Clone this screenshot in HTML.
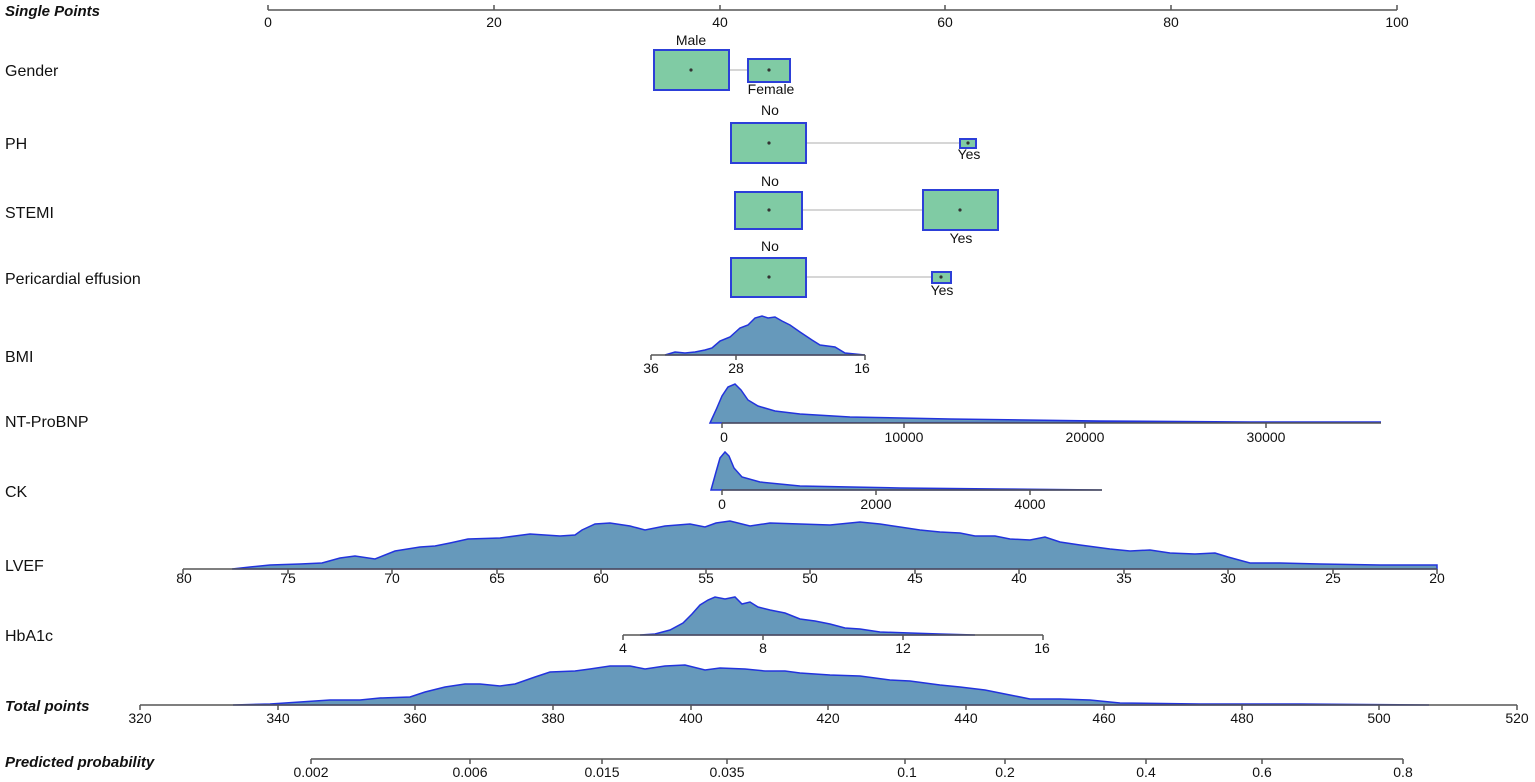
<!DOCTYPE html>
<html><head><meta charset="utf-8"><style>
html,body{margin:0;padding:0;background:#fff;}
svg{display:block;font-family:"Liberation Sans",Arial,sans-serif;}
.lab{font-size:16px;fill:#111;}
.bi{font-size:15px;font-weight:bold;font-style:italic;fill:#111;}
.t{font-size:14px;fill:#111;text-anchor:middle;}
.ax{stroke:#555;stroke-width:1.5;fill:none;}
.den{fill:#6699bb;stroke:#2233dd;stroke-width:1.5;}
.box{fill:#80cba4;stroke:#2c3fd8;stroke-width:2;}
.cn{stroke:#c8c8c8;stroke-width:1.5;}
</style></head><body>
<svg width="1535" height="782" viewBox="0 0 1535 782">
<text class="bi" x="5" y="16">Single Points</text>
<text class="lab" x="5" y="76">Gender</text>
<text class="lab" x="5" y="149">PH</text>
<text class="lab" x="5" y="218">STEMI</text>
<text class="lab" x="5" y="284">Pericardial effusion</text>
<text class="lab" x="5" y="362">BMI</text>
<text class="lab" x="5" y="427">NT-ProBNP</text>
<text class="lab" x="5" y="497">CK</text>
<text class="lab" x="5" y="571">LVEF</text>
<text class="lab" x="5" y="641">HbA1c</text>
<text class="bi" x="5" y="711">Total points</text>
<text class="bi" x="5" y="767">Predicted probability</text>

<path class="ax" d="M268 10H1397M268 10v-5M494 10v-5M720 10v-5M945 10v-5M1171 10v-5M1397 10v-5"/>
<text class="t" x="268" y="27">0</text><text class="t" x="494" y="27">20</text><text class="t" x="720" y="27">40</text><text class="t" x="945" y="27">60</text><text class="t" x="1171" y="27">80</text><text class="t" x="1397" y="27">100</text>

<line class="cn" x1="729" y1="70" x2="748" y2="70"/>
<rect class="box" x="654" y="50" width="75" height="40"/>
<rect class="box" x="748" y="59" width="42" height="23"/>
<circle cx="691" cy="70" r="1.6" fill="#333"/><circle cx="769" cy="70" r="1.6" fill="#333"/>
<text class="t" x="691" y="45">Male</text><text class="t" x="771" y="94">Female</text>
<line class="cn" x1="806" y1="143" x2="960" y2="143"/>
<rect class="box" x="731" y="123" width="75" height="40"/>
<rect class="box" x="960" y="139" width="16" height="9"/>
<circle cx="769" cy="143" r="1.6" fill="#333"/><circle cx="968" cy="143" r="1.6" fill="#333"/>
<text class="t" x="770" y="115">No</text><text class="t" x="969" y="159">Yes</text>
<line class="cn" x1="802" y1="210" x2="923" y2="210"/>
<rect class="box" x="735" y="192" width="67" height="37"/>
<rect class="box" x="923" y="190" width="75" height="40"/>
<circle cx="769" cy="210" r="1.6" fill="#333"/><circle cx="960" cy="210" r="1.6" fill="#333"/>
<text class="t" x="770" y="186">No</text><text class="t" x="961" y="243">Yes</text>
<line class="cn" x1="806" y1="277" x2="932" y2="277"/>
<rect class="box" x="731" y="258" width="75" height="39"/>
<rect class="box" x="932" y="272" width="19" height="11"/>
<circle cx="769" cy="277" r="1.6" fill="#333"/><circle cx="941" cy="277" r="1.6" fill="#333"/>
<text class="t" x="770" y="251">No</text><text class="t" x="942" y="295">Yes</text>

<path class="den" d="M665 355L675 352L685 353L695 352L705 350L712 348L720 341L730 337L740 328L748 325L755 318L762 316L768 318L775 317L782 321L790 325L800 332L812 340L820 345L835 347L845 353L855 354L865 355Z"/>
<path class="ax" d="M651 355H865M651 355v5M736 355v5M865 355v5"/>
<text class="t" x="651" y="373">36</text><text class="t" x="736" y="373">28</text><text class="t" x="862" y="373">16</text>

<path class="den" d="M710 423L716 410L722 396L728 387L735 384L741 390L748 400L758 406L775 411L800 414L850 417L950 419L1100 421L1250 422L1381 422Z"/>
<path class="ax" d="M722 423H1381M722 423v5M904 423v5M1085 423v5M1266 423v5"/>
<text class="t" x="724" y="442">0</text><text class="t" x="904" y="442">10000</text><text class="t" x="1085" y="442">20000</text><text class="t" x="1266" y="442">30000</text>

<path class="den" d="M711 490L716 472L720 458L725 452L729 456L734 468L742 477L760 482L800 486L900 488L1000 489L1102 490Z"/>
<path class="ax" d="M722 490H1102M722 490v5M876 490v5M1030 490v5"/>
<text class="t" x="722" y="509">0</text><text class="t" x="876" y="509">2000</text><text class="t" x="1030" y="509">4000</text>

<path class="den" d="M232 569L250 567L270 565L300 564L322 563L340 558L355 556L375 559L395 551L420 547L435 546L450 543L468 539L500 538L530 534L560 536L575 535L582 530L595 524L610 523L630 526L645 530L665 526L690 524L705 527L716 523L730 521L750 526L770 523L800 524L830 525L860 522L880 524L900 527L920 530L940 532L960 533L975 536L995 536L1010 539L1030 540L1045 537L1060 542L1080 545L1110 549L1130 551L1150 550L1170 553L1195 554L1215 553L1228 557L1250 563L1280 563L1320 564L1380 565L1437 565L1437 569Z"/>
<path class="ax" d="M183 569H1437M183 569v5M288 569v5M392 569v5M497 569v5M601 569v5M706 569v5M810 569v5M915 569v5M1019 569v5M1124 569v5M1228 569v5M1333 569v5M1437 569v5"/>
<text class="t" x="184" y="583">80</text><text class="t" x="288" y="583">75</text><text class="t" x="392" y="583">70</text><text class="t" x="497" y="583">65</text><text class="t" x="601" y="583">60</text><text class="t" x="706" y="583">55</text><text class="t" x="810" y="583">50</text><text class="t" x="915" y="583">45</text><text class="t" x="1019" y="583">40</text><text class="t" x="1124" y="583">35</text><text class="t" x="1228" y="583">30</text><text class="t" x="1333" y="583">25</text><text class="t" x="1437" y="583">20</text>

<path class="den" d="M640 635L655 634L670 630L683 623L692 614L700 605L708 600L715 597L725 599L735 597L742 604L750 602L758 607L770 610L785 613L800 619L815 621L830 624L845 628L860 629L880 632L910 633L940 634L975 635Z"/>
<path class="ax" d="M623 635H1043M623 635v5M763 635v5M903 635v5M1043 635v5"/>
<text class="t" x="623" y="653">4</text><text class="t" x="763" y="653">8</text><text class="t" x="903" y="653">12</text><text class="t" x="1042" y="653">16</text>

<path class="den" d="M233 705L270 704L300 702L330 700L360 700L380 698L410 697L425 692L445 687L465 684L480 684L500 686L515 684L535 677L550 672L575 671L590 669L610 666L630 666L645 669L665 666L685 665L705 670L720 668L745 669L765 671L785 671L800 673L830 675L860 676L890 680L910 681L940 685L960 687L985 690L1010 695L1030 699L1060 699L1090 700L1120 703L1200 704L1300 704L1429 705Z"/>
<path class="ax" d="M140 705H1517M140 705v5M278 705v5M415 705v5M553 705v5M691 705v5M828 705v5M966 705v5M1104 705v5M1242 705v5M1379 705v5M1517 705v5"/>
<text class="t" x="140" y="723">320</text><text class="t" x="278" y="723">340</text><text class="t" x="415" y="723">360</text><text class="t" x="553" y="723">380</text><text class="t" x="691" y="723">400</text><text class="t" x="828" y="723">420</text><text class="t" x="966" y="723">440</text><text class="t" x="1104" y="723">460</text><text class="t" x="1242" y="723">480</text><text class="t" x="1379" y="723">500</text><text class="t" x="1517" y="723">520</text>

<path class="ax" d="M311 759H1403M311 759v5M470 759v5M602 759v5M727 759v5M905 759v5M1005 759v5M1146 759v5M1262 759v5M1403 759v5"/>
<text class="t" x="311" y="777">0.002</text><text class="t" x="470" y="777">0.006</text><text class="t" x="602" y="777">0.015</text><text class="t" x="727" y="777">0.035</text><text class="t" x="907" y="777">0.1</text><text class="t" x="1005" y="777">0.2</text><text class="t" x="1146" y="777">0.4</text><text class="t" x="1262" y="777">0.6</text><text class="t" x="1403" y="777">0.8</text>
</svg>
</body></html>
